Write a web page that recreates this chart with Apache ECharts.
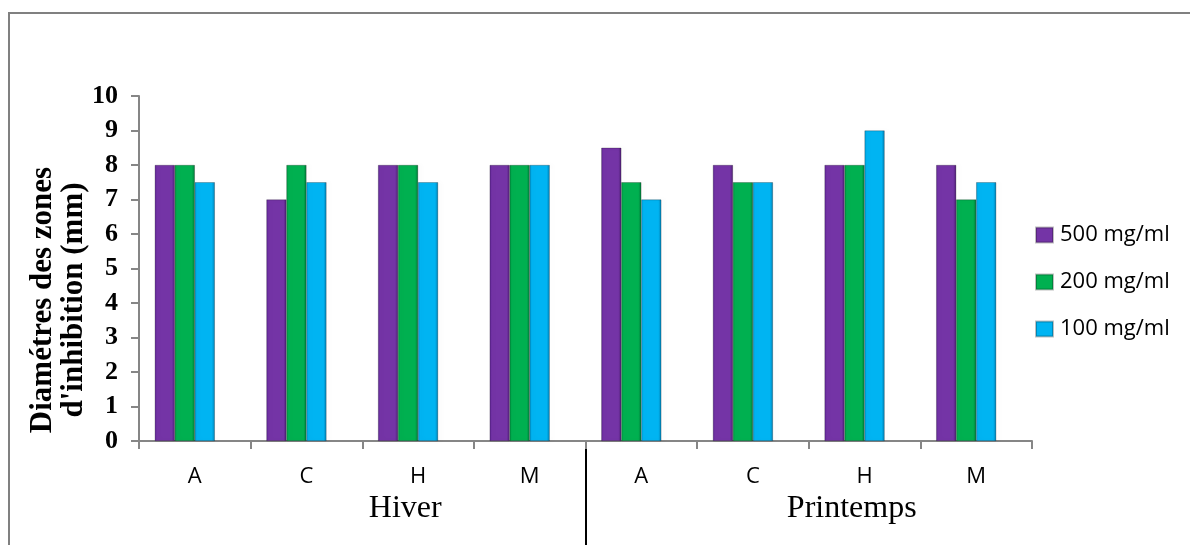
<!DOCTYPE html>
<html><head><meta charset="utf-8">
<script src="https://cdn.jsdelivr.net/npm/echarts@6/dist/echarts.min.js"></script>
<style>html,body{margin:0;padding:0;background:#fff}#c{width:1190px;height:545px}</style>
</head><body><div id="c"></div>
<script>
const categories = ['A','C','H','M','A','C','H','M'];
const seasons = ['Hiver','Printemps'];
const s500 = [8, 7, 8, 8, 8.5, 8, 8, 8];
const s200 = [8, 8, 8, 8, 7.5, 7.5, 8, 7];
const s100 = [7.5, 7.5, 7.5, 8, 7, 7.5, 9, 7.5];
const seriesNames = ['500 mg/ml','200 mg/ml','100 mg/ml'];
const yTicks = [0,1,2,3,4,5,6,7,8,9,10];

function grad(edge, body, dark){
  return new echarts.graphic.LinearGradient(0,0,1,0,[
    {offset:0,color:edge},{offset:0.12,color:body},{offset:0.85,color:body},{offset:1,color:dark}]);
}
const styles = [
  grad('#62289a','#7434a6','#4f1f76'),
  grad('#009a45','#00b050','#007a3a'),
  grad('#009fd8','#00b4f2','#0080b4')
];
const iconStyles = ['#7434a6','#00b050','#00b4f2'];
const gray = '#868686';

const chart = echarts.init(document.getElementById('c'));
const mk = (name, data, i) => ({
  name, type:'bar', data, barWidth:20, barGap:'0%',
  itemStyle:{color:styles[i], borderColor:'rgba(0,0,0,0.25)', borderWidth:0.5,
    shadowColor:'rgba(0,0,0,0.28)', shadowBlur:4, shadowOffsetX:3, shadowOffsetY:0},
  animation:false
});
chart.setOption({
  animation:false,
  grid:{left:139, right:158, top:96, bottom:104, containLabel:false},
  legend:{
    orient:'vertical', left:1030, top:218, itemWidth:17, itemHeight:15, itemGap:23,
    data: seriesNames.map((n,i)=>({name:n, icon:'rect', itemStyle:{color:iconStyles[i]}})),
    textStyle:{fontFamily:'Open Sans', fontSize:22, color:'#000', lineHeight:24, padding:[0,0,0,2]}
  },
  xAxis:[{
    type:'category', data:categories, position:'bottom',
    axisLine:{lineStyle:{color:gray, width:2}},
    axisTick:{show:true, length:8, lineStyle:{color:gray, width:2}, alignWithLabel:false},
    axisLabel:{fontFamily:'Open Sans', fontSize:22, color:'#000', margin:25, interval:0}
  },{
    type:'category', data:seasons, position:'bottom', gridIndex:0,
    axisLine:{show:false}, axisTick:{show:false},
    axisLabel:{fontFamily:'Liberation Serif', fontSize:32, color:'#000', margin:52, padding:[0,0,0,86], interval:0}
  }],
  yAxis:{
    type:'value', min:0, max:10, interval:1,
    axisLine:{show:true, lineStyle:{color:gray, width:2}},
    axisTick:{show:true, length:8, lineStyle:{color:gray, width:2}},
    splitLine:{show:false},
    axisLabel:{fontFamily:'Liberation Serif', fontWeight:'bold', fontSize:26, color:'#000', margin:21,
      formatter:v=>yTicks.includes(v)?String(v):''}
  },
  series:[
    mk(seriesNames[0], s500, 0),
    mk(seriesNames[1], s200, 1),
    mk(seriesNames[2], s100, 2),
    {name:'spacer', type:'bar', data:[], barWidth:20, barGap:'0%', silent:true}
  ]
});
const p3 = chart.convertToPixel({xAxisIndex:0}, 3);
const p4 = chart.convertToPixel({xAxisIndex:0}, 4);
const divX = Math.round((p3 + p4) / 2);
const y0 = chart.convertToPixel({yAxisIndex:0}, 0);
const xLeft = chart.convertToPixel({xAxisIndex:0}, 0) - (p4 - p3) / 2;
chart.setOption({
  graphic:[
    {type:'rect', shape:{x:9, y:13, width:1200, height:600}, style:{fill:'none', stroke:'#808080', lineWidth:2}, silent:true},
    {type:'line', shape:{x1:xLeft-8, y1:y0, x2:xLeft, y2:y0}, style:{stroke:gray, lineWidth:2}, silent:true},
    {type:'line', shape:{x1:divX, y1:y0+2, x2:divX, y2:560}, style:{stroke:'#000', lineWidth:2}, silent:true},
    {type:'text', x:58, y:300, rotation:Math.PI/2,
      style:{text:"Diamétres des zones\nd'inhibition (mm)", fontFamily:'Liberation Serif', fontWeight:'bold',
        fontSize:31, lineHeight:31, fill:'#000', align:'center', verticalAlign:'middle'}}
  ]
});
</script></body></html>
